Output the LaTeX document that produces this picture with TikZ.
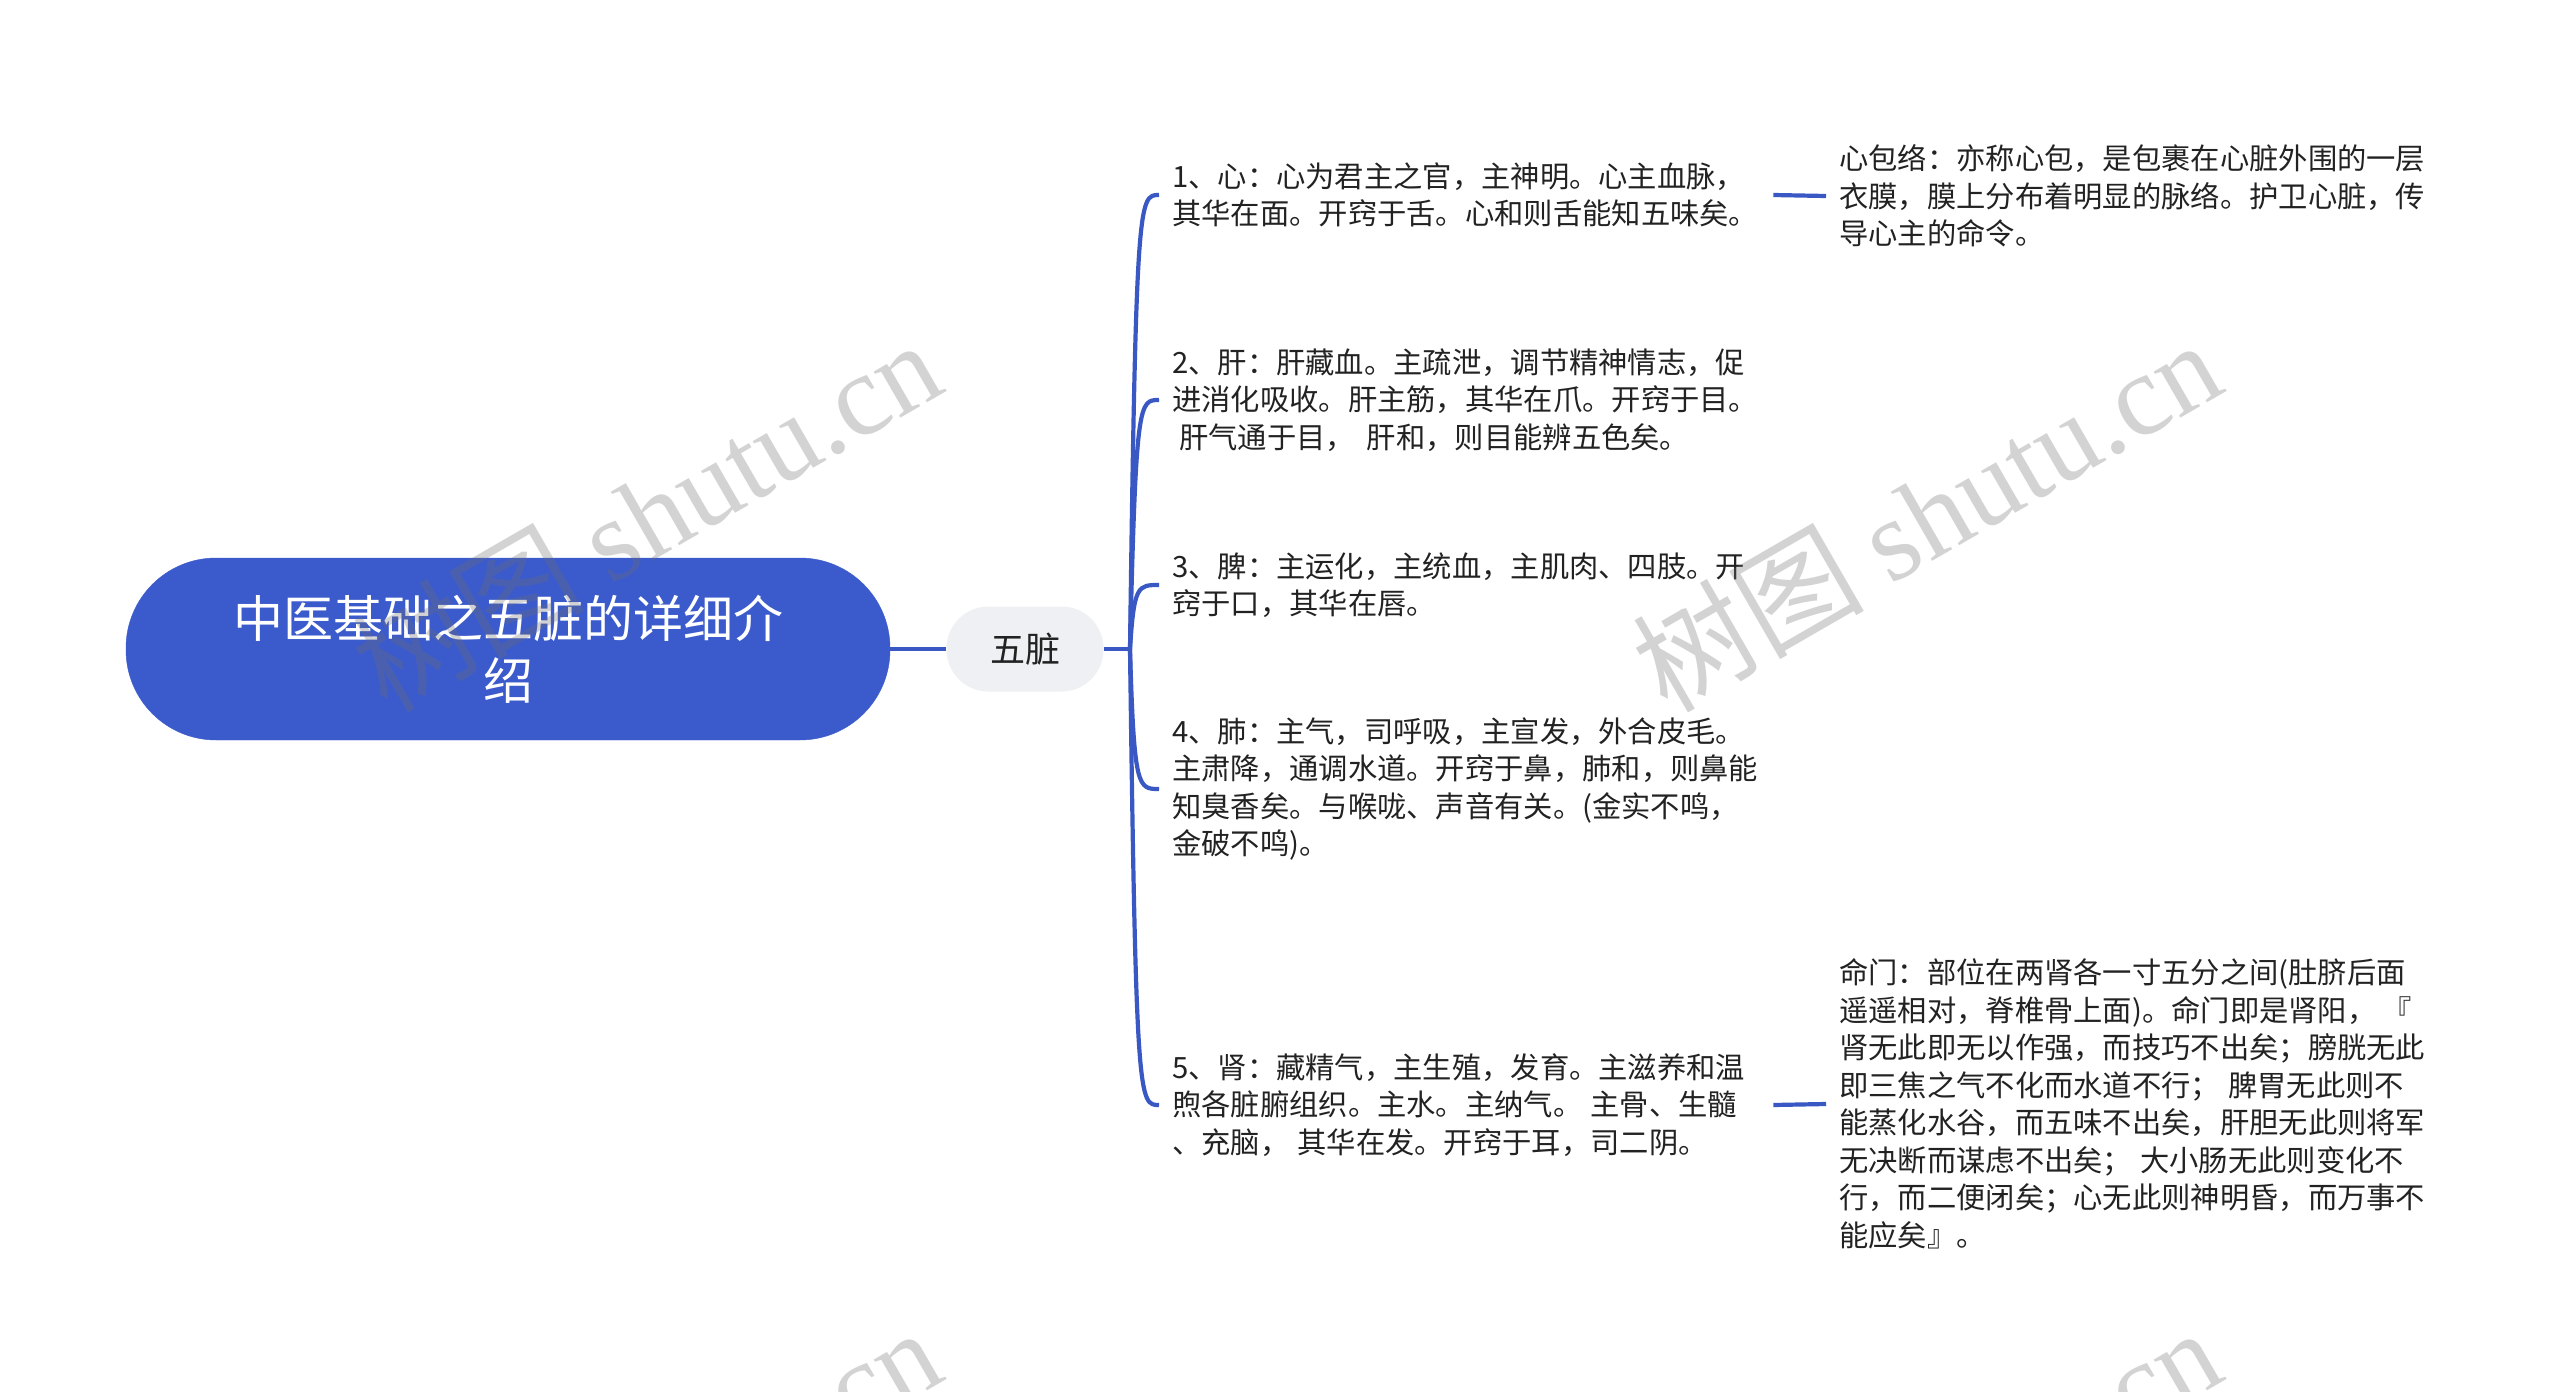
\documentclass[tikz,border=0pt]{standalone}
\usepackage{fontspec}
\setmainfont{Noto Sans CJK SC}
\newfontfamily\cjk{Noto Sans CJK SC}
\newfontfamily\wmfont{Liberation Serif}
\definecolor{rootblue}{RGB}{59,91,204}
\definecolor{linkblue}{RGB}{58,88,196}
\definecolor{midgray}{RGB}{238,240,243}
\definecolor{textdark}{RGB}{34,34,34}
\definecolor{wmgray}{RGB}{110,110,110}
\begin{document}
\begin{tikzpicture}[x=1pt,y=-1pt,
  rootnode/.style={fill=rootblue, draw=rootblue, rounded corners=90pt, minimum width=764pt, minimum height=182pt, text=white, font=\fontsize{50}{62}\selectfont, align=center, inner sep=0pt},
  midnode/.style={fill=midgray, rounded corners=42pt, minimum width=157pt, minimum height=85pt, font=\fontsize{35}{42}\selectfont, text=textdark, inner sep=0pt},
  leaf/.style={anchor=west, inner xsep=13pt, inner ysep=4pt, align=left, text width=588pt, font=\fontsize{29.3}{37.5}\selectfont, text=textdark},
  link/.style={draw=linkblue, line width=4.2pt},
  wm/.style={text=wmgray, text opacity=0.3, rotate=30, font=\fontsize{116}{120}\selectfont, inner sep=0pt}
]
\useasboundingbox (0,0) rectangle (2560,1392);
\fill[white] (0,0) rectangle (2560,1392);

\node[rootnode] (r) at (508,649) {中医基础之五脏的详细介\\绍};
\node[midnode] (m) at (1025,649) {五脏};

\node[leaf] (c1) at (1159,195) {1、心：心为君主之官，主神明。心主血脉，\\其华在面。开窍于舌。心和则舌能知五味矣。};
\node[leaf] (c2) at (1159,400) {2、肝：肝藏血。主疏泄，调节精神情志，促\\进消化吸收。肝主筋，其华在爪。开窍于目。\\\hspace*{7pt}肝气通于目，\hspace{12pt}肝和，则目能辨五色矣。};
\node[leaf] (c3) at (1159,585) {3、脾：主运化，主统血，主肌肉、四肢。开\\窍于口，其华在唇。};
\node[leaf] (c4) at (1159,789) {4、肺：主气，司呼吸，主宣发，外合皮毛。\\主肃降，通调水道。开窍于鼻，肺和，则鼻能\\知臭香矣。与喉咙、声音有关。(金实不鸣，\\金破不鸣)。};
\node[leaf] (c5) at (1159,1105) {5、肾：藏精气，主生殖，发育。主滋养和温\\煦各脏腑组织。主水。主纳气。\hspace{8pt}主骨、生髓\\、充脑，\hspace{8pt}其华在发。开窍于耳，司二阴。};

\node[leaf] (d1) at (1826,196) {心包络：亦称心包，是包裹在心脏外围的一层\\衣膜，膜上分布着明显的脉络。护卫心脏，传\\导心主的命令。};
\node[leaf] (d5) at (1826,1104) {命门：部位在两肾各一寸五分之间(肚脐后面\\遥遥相对，脊椎骨上面)。命门即是肾阳，\hspace{6pt}『\\肾无此即无以作强，而技巧不出矣；膀胱无此\\即三焦之气不化而水道不行；\hspace{8pt}脾胃无此则不\\能蒸化水谷，而五味不出矣，肝胆无此则将军\\无决断而谋虑不出矣；\hspace{8pt}大小肠无此则变化不\\行，而二便闭矣；心无此则神明昏，而万事不\\能应矣』。};

\coordinate (t) at (1130,649);
\draw[link] (r.east) -- (m.west);
\draw[link] (m.east) -- (t);
\draw[link] (t) .. controls (1136,195) and (1139,195) .. (c1.west);
\draw[link] (t) .. controls (1136,400) and (1139,400) .. (c2.west);
\draw[link] (t) .. controls (1134,585) and (1138,585) .. (c3.west);
\draw[link] (t) .. controls (1134,789) and (1138,789) .. (c4.west);
\draw[link] (t) .. controls (1136,1105) and (1139,1105) .. (c5.west);
\draw[link] (c1.east) -- (d1.west);
\draw[link] (c5.east) -- (d5.west);

\begin{scope}
\clip (0,0) rectangle (2560,1392);
\node[wm] (w1) at (646,514) {\cjk 树图 \wmfont shutu.cn};
\node[wm] (w2) at (1926,514) {\cjk 树图 \wmfont shutu.cn};
\node[wm] (w3) at (646,1502) {\cjk 树图 \wmfont shutu.cn};
\node[wm] (w4) at (1926,1502) {\cjk 树图 \wmfont shutu.cn};
\end{scope}
\end{tikzpicture}
\end{document}
